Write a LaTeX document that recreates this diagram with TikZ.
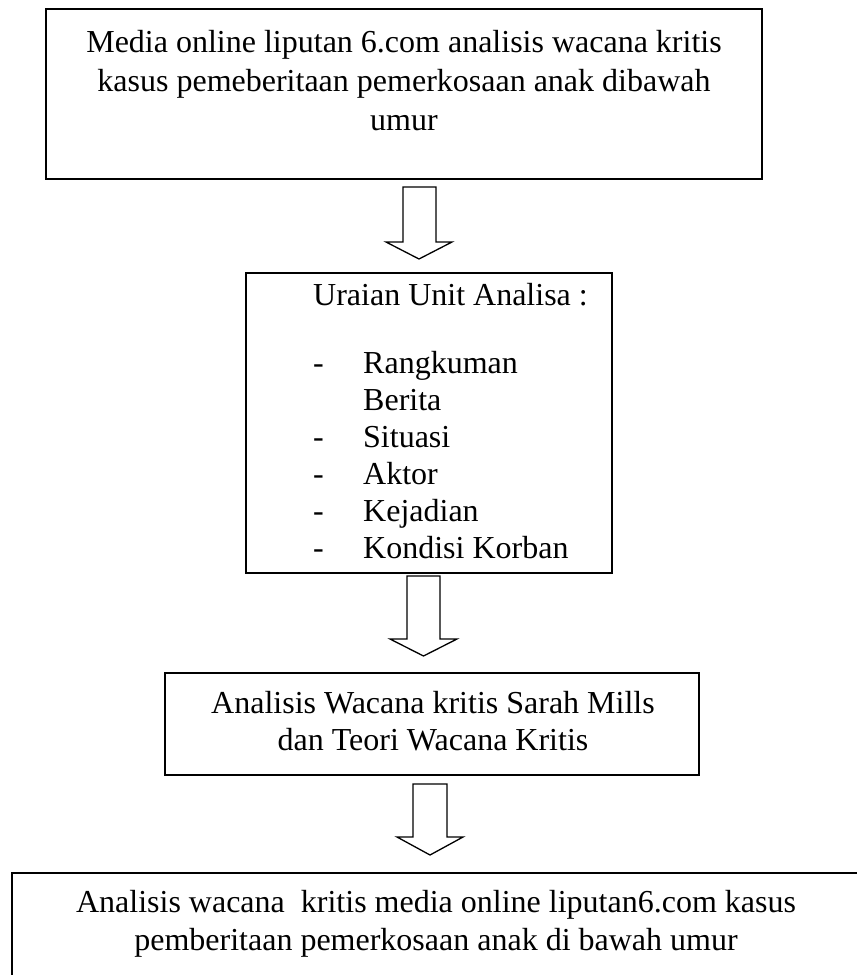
\documentclass[tikz,border=0pt]{standalone}
\usepackage{fontspec}
\setmainfont{Liberation Serif}
\begin{document}
\begin{tikzpicture}[x=1pt,y=-1pt,
  box/.style={draw,line width=1.6pt,rectangle,inner sep=0pt},
  txt/.style={anchor=base,inner sep=0pt,font=\fontsize{32}{38}\selectfont},
  ltxt/.style={anchor=base west,inner sep=0pt,font=\fontsize{32}{38}\selectfont},
  blockarrow/.style={draw,line width=1.3pt,line join=miter,fill=white}]
\clip (0,0) rectangle (857,975);
\useasboundingbox (0,0) rectangle (857,975);
% boxes
\node[box,minimum width=716pt,minimum height=170pt] (b1) at (404,94) {};
\node[box,minimum width=366pt,minimum height=300pt] (b2) at (429,423) {};
\node[box,minimum width=534pt,minimum height=102pt] (b3) at (432,724) {};
\draw[line width=1.6pt] (12,1000) -- (12,873) coordinate (b4nw) -- (880,873);
% box 1 text
\node[txt] (t1a) at (404,52) {Media online liputan 6.com analisis wacana kritis};
\node[txt] (t1b) at (404,91) {kasus pemeberitaan pemerkosaan anak dibawah};
\node[txt] (t1c) at (404,130) {umur};
% box 2 text
\node[ltxt] (t2h) at (313,305) {Uraian Unit Analisa :};
\foreach \y/\n/\t in {373/i1/Rangkuman,447/i2/Situasi,484/i3/Aktor,521/i4/Kejadian,558/i5/Kondisi Korban}{
  \node[ltxt] (d\n) at (313,\y) {-};
  \node[ltxt] (\n) at (363,\y) {\t};
}
\node[ltxt] (i1b) at (363,410) {Berita};
% box 3 text
\node[txt] (t3a) at (433,713) {Analisis Wacana kritis Sarah Mills};
\node[txt] (t3b) at (433,750) {dan Teori Wacana Kritis};
% box 4 text
\node[txt] (t4a) at (436,912) {Analisis wacana\ \ kritis media online liputan6.com kasus};
\node[txt] (t4b) at (436,950) {pemberitaan pemerkosaan anak di bawah umur};
% block arrows
\draw[blockarrow] (403,187) -- (436,187) -- (436,242) -- (452,242) -- (419,259) -- (386,242) -- (403,242) -- cycle;
\draw[blockarrow] (407,576) -- (440,576) -- (440,639) -- (457,639) -- (423.5,656) -- (390,639) -- (407,639) -- cycle;
\draw[blockarrow] (413,784) -- (447,784) -- (447,837) -- (463,837) -- (430,855) -- (397,837) -- (413,837) -- cycle;
\end{tikzpicture}
\end{document}
